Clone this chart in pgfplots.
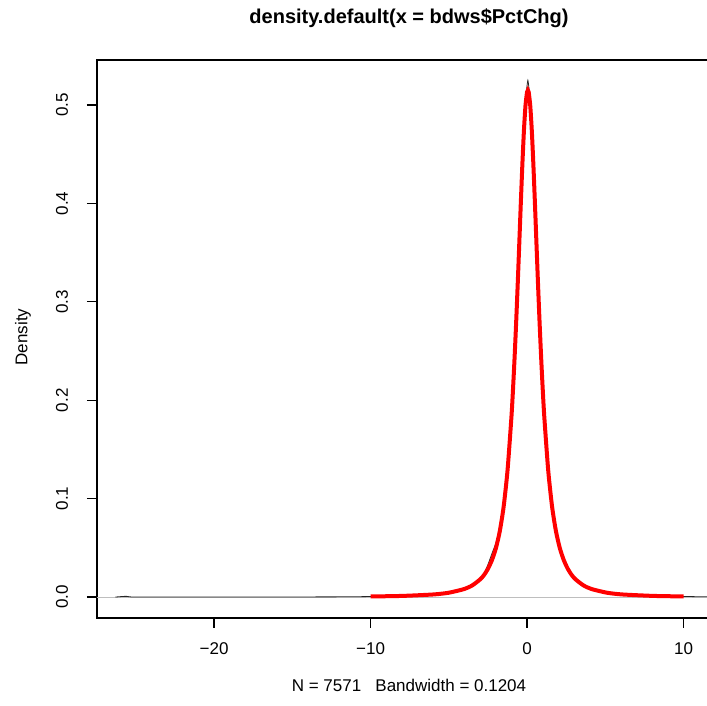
\documentclass[border=0pt]{standalone}
\usepackage{pgfplots}
\pgfplotsset{compat=1.18}
\usepackage{fontspec}
\setmainfont{Liberation Sans}

\definecolor{zerogray}{RGB}{190,190,190}

\begin{document}
\begin{tikzpicture}
% page = the 707 x 706 px frame, axis box starts at (97,618) px
\useasboundingbox (-97pt,-88pt) rectangle (610pt,618pt);
\clip (-97pt,-88pt) rectangle (610pt,618pt);
\begin{axis}[
  at={(0pt,0pt)}, anchor=south west,
  scale only axis,
  width=624pt, height=558pt,
  xmin=-27.48, xmax=12.39,
  ymin=-0.0213, ymax=0.5457,
  xtick={-20,-10,0,10},
  xticklabels={−20,−10,0,10},
  ytick={0,0.1,0.2,0.3,0.4,0.5},
  yticklabels={0.0,0.1,0.2,0.3,0.4,0.5},
  xtick pos=lower, ytick pos=left,
  tick align=outside,
  major tick length=10pt,
  tick style={black, line width=1.2pt},
  axis line style={black, line width=1.2pt},
  ticklabel style={font=\fontsize{17}{20}\selectfont},
  xticklabel style={anchor=center, yshift=-21pt},
  yticklabel style={rotate=90, anchor=center, yshift=25pt},
  clip=true,
]
% zero line
\addplot[zerogray, line width=1pt] coordinates {(-27.48,0) (12.39,0)};

% kernel density estimate
\addplot[black!85, line width=0.8pt, smooth, tension=0.4] coordinates {
(-26.3,0) (-25.9,0.0005) (-25.6,0.0007) (-25.3,0.0001) (-24.5,0)
(-20,0) (-15,0.0001) (-12,0.0002) (-10,0.0005) (-8,0.0011)
(-6,0.0026) (-5,0.0044) (-4,0.0083) (-3.5,0.0120) (-3,0.0185)
(-2.75,0.0240) (-2.5,0.0330) (-2.25,0.0440) (-2,0.0545) (-1.75,0.0680)
(-1.5,0.0920) (-1.25,0.1290) (-1,0.1830) (-0.9,0.2110) (-0.8,0.2430)
(-0.7,0.2790) (-0.6,0.3180) (-0.5,0.3600) (-0.4,0.4020) (-0.3,0.4430)
(-0.2,0.4780) (-0.1,0.5040) (0,0.5200) (0.05,0.5250) (0.1,0.5200)
(0.2,0.5040) (0.3,0.4780) (0.4,0.4430) (0.5,0.4020) (0.6,0.3600)
(0.7,0.3180) (0.8,0.2790) (0.9,0.2430) (1.0,0.2110) (1.1,0.1830)
(1.35,0.1290) (1.6,0.0915) (1.85,0.0664) (2.1,0.0492) (2.6,0.0287)
(3.1,0.0179) (3.6,0.0119) (4.1,0.0082) (5.1,0.0044) (6.1,0.0026)
(8.1,0.0011) (10,0.0006) (11,0.0003) (12,0.0001) (12.4,0)
};

% fitted density
\addplot[red, line width=4pt, smooth, tension=0.4] coordinates {
(-10,0.00058) (-8,0.00113) (-6,0.0026) (-5,0.00439) (-4,0.00822)
(-3.5,0.01186) (-3,0.01792) (-2.75,0.0224) (-2.5,0.02867) (-2.25,0.0373)
(-2,0.0492) (-1.75,0.0664) (-1.5,0.0915) (-1.25,0.1286) (-1,0.1830)
(-0.9,0.2109) (-0.8,0.2428) (-0.7,0.2784) (-0.6,0.3175) (-0.5,0.3588)
(-0.4,0.4006) (-0.3,0.4401) (-0.2,0.4744) (-0.1,0.4997) (0,0.5133)
(0.05,0.5150) (0.1,0.5133) (0.2,0.4997) (0.3,0.4744) (0.4,0.4401)
(0.5,0.4006) (0.6,0.3588) (0.7,0.3175) (0.8,0.2784) (0.9,0.2428)
(1.0,0.2109) (1.1,0.1830) (1.35,0.1286) (1.6,0.0915) (1.85,0.0664)
(2.1,0.0492) (2.35,0.0373) (2.6,0.02867) (2.85,0.0224) (3.1,0.01792)
(3.6,0.01186) (4.1,0.00822) (5.1,0.00439) (6.1,0.0026) (8.1,0.00113)
(10,0.0006)
};
\end{axis}
% title and axis labels
\node[font=\bfseries\fontsize{20}{24}\selectfont] at (312pt,600pt) {density.default(x = bdws\$PctChg)};
\node[font=\fontsize{17}{20}\selectfont] at (312pt,-67pt) {N = 7571\ \ \ Bandwidth = 0.1204};
\node[rotate=90, font=\fontsize{17}{20}\selectfont] at (-74pt,281pt) {Density};
\end{tikzpicture}
\end{document}
